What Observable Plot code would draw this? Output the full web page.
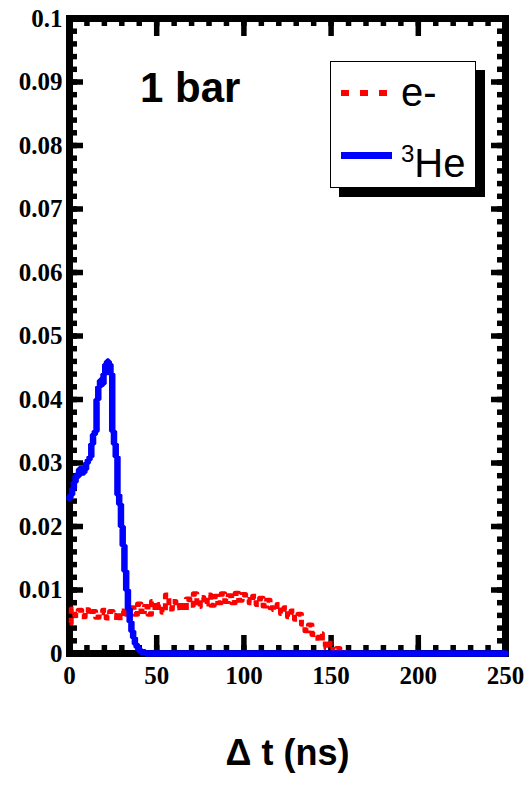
<!DOCTYPE html>
<html>
<head>
<meta charset="utf-8">
<script src="https://cdn.jsdelivr.net/npm/d3@7"></script>
<script src="https://cdn.jsdelivr.net/npm/@observablehq/plot@0.6"></script>
<style>
  html, body { margin: 0; padding: 0; background: #fff; }
  #wrap { position: relative; width: 526px; height: 786px; overflow: hidden; }
  .abs { position: absolute; }
  .sans { font-family: 'Liberation Sans', Arial, sans-serif; color: black; white-space: nowrap; }
</style>
</head>
<body>
<div id="wrap"></div>
<script>
// ---- data ----
const heT = [0,1,2,3,4,5,6,7,8,9,10,11,12,13,14,15,16,17,18,19,20,21,22,23,24,25,26,27,28,29,30,31,32,33,34,35,36,37,38,39,40,42,45,250];
const heV = [0.0245,0.025,0.026,0.027,0.028,0.028,0.029,0.029,0.0285,0.029,0.030,0.0305,0.031,0.033,0.0345,0.035,0.040,0.042,0.043,0.0425,0.044,0.0455,0.046,0.0455,0.044,0.035,0.033,0.031,0.025,0.0235,0.020,0.017,0.013,0.010,0.007,0.005,0.0035,0.0025,0.0015,0.001,0.0005,0.0002,0,0];

const eT = [0,2,4,6,8,10,12,14,16,18,20,22,24,26,28,30,32,34,36,38,40,42,44,46,48,50,52,54,56,58,60,62,64,66,68,70,72,74,76,78,80,82,84,86,88,90,92,94,96,98,100,102,104,106,108,110,112,114,116,118,120,122,124,126,128,130,132,134,136,138,140,142,144,146,148,150,152,154,156,158,160,250];
const eV = [0.0048,0.0070,0.0060,0.0068,0.0058,0.0069,0.0062,0.0066,0.0057,0.0064,0.0068,0.0056,0.0066,0.0060,0.0052,0.0067,0.0058,0.0066,0.0072,0.0062,0.0078,0.0066,0.0074,0.0062,0.0082,0.0068,0.0077,0.0065,0.0092,0.0070,0.0082,0.0072,0.0080,0.0068,0.0086,0.0076,0.0094,0.0074,0.0088,0.0078,0.0092,0.0076,0.0090,0.0080,0.0094,0.0082,0.0091,0.0080,0.0095,0.0084,0.0093,0.0085,0.0080,0.0090,0.0077,0.0087,0.0075,0.0084,0.0072,0.0069,0.0077,0.0063,0.0072,0.0058,0.0067,0.0054,0.0062,0.0046,0.0036,0.0045,0.0030,0.0024,0.0031,0.0015,0.0009,0.0016,0.0003,0.0008,0.0002,0.0001,0,0];

const xTicks = [0,50,100,150,200,250];
const yTicks = [0,0.01,0.02,0.03,0.04,0.05,0.06,0.07,0.08,0.09,0.1];
const yTickLabels = ["0","0.01","0.02","0.03","0.04","0.05","0.06","0.07","0.08","0.09","0.1"];
const xMinor = d3.range(0, 251, 10);
const yMinor = d3.range(0, 0.1001, 0.002);
const xTitle = "\u0394 t (ns)";
const panelLabel = "1 bar";
const seriesNames = ["e-", "He"];

const heData = heT.map((t, i) => ({t, v: heV[i]}));
const eData = eT.map((t, i) => ({t, v: eV[i]}));

const W = 526, H = 786, mL = 69, mR = 21, mT = 18, mB = 133;
const innerW = W - mL - mR, innerH = H - mT - mB;
const tk = {stroke: "black", strokeWidth: 5.5};
const common = {
  width: W, height: H,
  marginLeft: mL, marginRight: mR, marginTop: mT, marginBottom: mB,
  x: {domain: [0, 250], axis: null},
  y: {domain: [0, 0.1], axis: null}
};

// layer 1: frame and inward ticks
const frameChart = Plot.plot({
  ...common,
  style: {background: "white", color: "black"},
  marks: [
    Plot.ruleX(xMinor, {...tk, insetTop: innerH - 8}),
    Plot.ruleX(xMinor, {...tk, insetBottom: innerH - 8}),
    Plot.ruleY(yMinor, {...tk, insetRight: innerW - 8}),
    Plot.ruleY(yMinor, {...tk, insetLeft: innerW - 8}),
    Plot.ruleX(xTicks, {...tk, insetTop: innerH - 18}),
    Plot.ruleX(xTicks, {...tk, insetBottom: innerH - 18}),
    Plot.ruleY(yTicks, {...tk, insetRight: innerW - 14}),
    Plot.ruleY(yTicks, {...tk, insetLeft: innerW - 14}),
    Plot.frame({stroke: "black", strokeWidth: 7})
  ]
});

// layer 2: data and labels (transparent)
const dataChart = Plot.plot({
  ...common,
  style: {fontFamily: "'Liberation Serif', 'DejaVu Serif', serif", fontSize: "25px", fontWeight: "bold", color: "black", background: "transparent"},
  marks: [
    Plot.line(eData, {x: "t", y: "v", stroke: "#ff0000", strokeWidth: 5, strokeDasharray: "7,4", curve: "step", strokeLinecap: "butt"}),
    Plot.line(heData, {x: "t", y: "v", stroke: "#0000ff", strokeWidth: 6.5, curve: "step", strokeLinejoin: "miter"}),
    Plot.text(xTicks, {x: d => d, frameAnchor: "bottom", dy: 30, text: d => String(d), fontSize: 25, fontWeight: "bold", fill: "black"}),
    Plot.text(yTicks, {y: d => d, frameAnchor: "left", dx: -7, textAnchor: "end", text: (d, i) => yTickLabels[i], fontSize: 25, fontWeight: "bold", fill: "black"}),
    Plot.text([xTitle], {frameAnchor: "bottom", dy: 111, fontSize: 36, fontWeight: "bold", fontFamily: "'Liberation Sans', Arial, sans-serif", fill: "black"})
  ]
});

const wrap = document.getElementById("wrap");
wrap.appendChild(frameChart);
dataChart.style.position = "absolute";
dataChart.style.left = "0px";
dataChart.style.top = "0px";
wrap.appendChild(dataChart);

// HTML overlay: panel label and legend
const html = `
  <div class="abs sans" style="left:140px;top:67px;font-size:42px;line-height:42px;font-weight:bold;">${panelLabel}</div>
  <div class="abs" style="left:339px;top:70px;width:146px;height:127px;background:black;"></div>
  <div class="abs" style="left:330px;top:61px;width:146px;height:127px;box-sizing:border-box;border:1.5px solid black;background:white;"></div>
  <div class="abs" style="left:341px;top:90px;width:50px;height:6px;background:repeating-linear-gradient(to right,#ff0000 0px,#ff0000 8px,transparent 8px,transparent 19px);"></div>
  <div class="abs sans" style="left:401px;top:72px;font-size:40px;line-height:40px;">${seriesNames[0]}</div>
  <div class="abs" style="left:341px;top:152px;width:51px;height:7px;background:#0000ff;"></div>
  <div class="abs sans" style="left:401px;top:134px;font-size:40px;line-height:40px;"><span style="font-size:24px;vertical-align:15px;">3</span>${seriesNames[1]}</div>
`;
const ov = document.createElement("div");
ov.className = "abs";
ov.style.left = "0px";
ov.style.top = "0px";
ov.innerHTML = html;
wrap.appendChild(ov);
</script>
</body>
</html>
